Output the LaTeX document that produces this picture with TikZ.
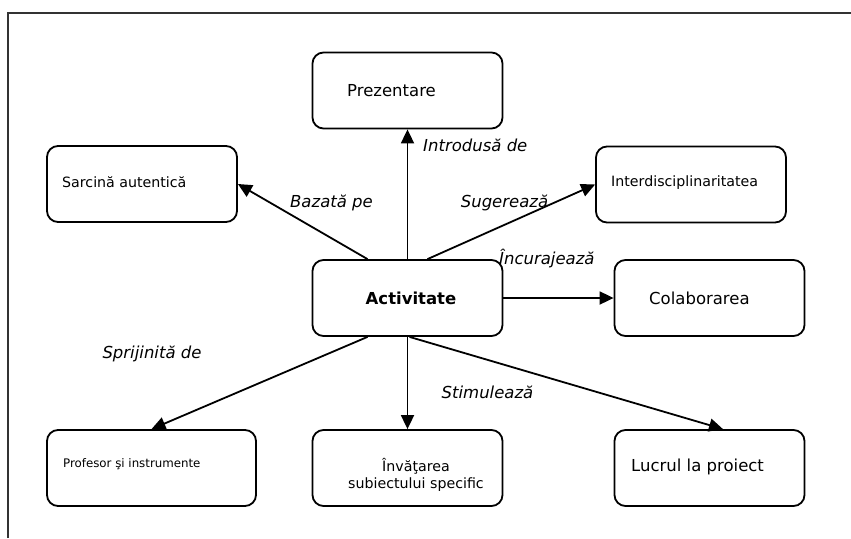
\documentclass[tikz,border=0pt]{standalone}
\usepackage{fontspec}
\setmainfont{DejaVu Sans}
\usetikzlibrary{arrows.meta,calc}
\tikzset{
  box/.style={draw=black, line width=1.8pt, rounded corners=11pt, minimum width=190pt, minimum height=76pt, inner sep=0pt},
  big/.style={font=\fontsize{16.5}{19.8}\selectfont, inner sep=0pt},
  mid/.style={font=\fontsize{14.2}{17}\selectfont, inner sep=0pt},
  small/.style={font=\fontsize{11.8}{14}\selectfont, inner sep=0pt},
  lbl/.style={font=\fontsize{16.5}{19.8}\selectfont\itshape, inner sep=0pt},
  conn/.style={line width=1.8pt, -{Triangle[length=14pt,width=13pt]}},
}
\begin{document}
\begin{tikzpicture}[x=1pt,y=-1pt]
\useasboundingbox (0,0) rectangle (851,538);
% frame
\draw[line width=2pt, black!80] (8,538) -- (8,13) -- (851,13);
% boxes
\node[box] (pre) at (407.5,90.5) {};
\node[box] (sar) at (142,184) {};
\node[box] (int) at (691,184.5) {};
\node[box] (act) at (407.5,298) {};
\node[box] (col) at (709.5,298) {};
\node[box, minimum width=209pt] (pro) at (151.5,468) {};
\node[box] (inv) at (407.5,468) {};
\node[box] (luc) at (709.5,468) {};
% texts
\node[big, anchor=west] (preT) at (347,91) {Prezentare};
\node[mid, anchor=west] (sarT) at (62,182) {Sarcină autentică};
\node[mid, anchor=west] (intT) at (611,183) {Interdisciplinaritatea};
\node[big, font=\fontsize{16.5}{19.8}\selectfont\bfseries] (actT) at (411,298) {Activitate};
\node[big, anchor=west] (colT) at (649,298) {Colaborarea};
\node[small, anchor=west] (proT) at (63,464) {Profesor şi instrumente};
\node[mid, align=center] (invT) at (416,474.5) {Învăţarea\\subiectului specific};
\node[big, anchor=west] (lucT) at (631,467) {Lucrul la proiect};
% connectors
\draw[conn] (act.north) -- (pre.south);
\draw[conn] ($(act.north)+(-40,0)$) -- (sar.east);
\draw[conn] ($(act.north)+(20,0)$) -- (int.west);
\draw[conn] (act.east) -- (col.west);
\draw[conn] ($(act.south)+(-40,0)$) -- (pro.north);
\draw[conn] (act.south) -- (inv.north);
\draw[conn] ($(act.south)+(2,0)$) -- ($(luc.north)+(13.5,0)$);
% labels
\node[lbl, anchor=west] (l1) at (423,145) {Introdusă de};
\node[lbl] (l2) at (331.5,203) {Bazată pe};
\node[lbl] (l3) at (504.5,203) {Sugerează};
\node[lbl, anchor=west] (l4) at (499,259) {Încurajează};
\node[lbl] (l5) at (152,354) {Sprijinită de};
\node[lbl] (l6) at (487.5,392) {Stimulează};
\end{tikzpicture}
\end{document}
